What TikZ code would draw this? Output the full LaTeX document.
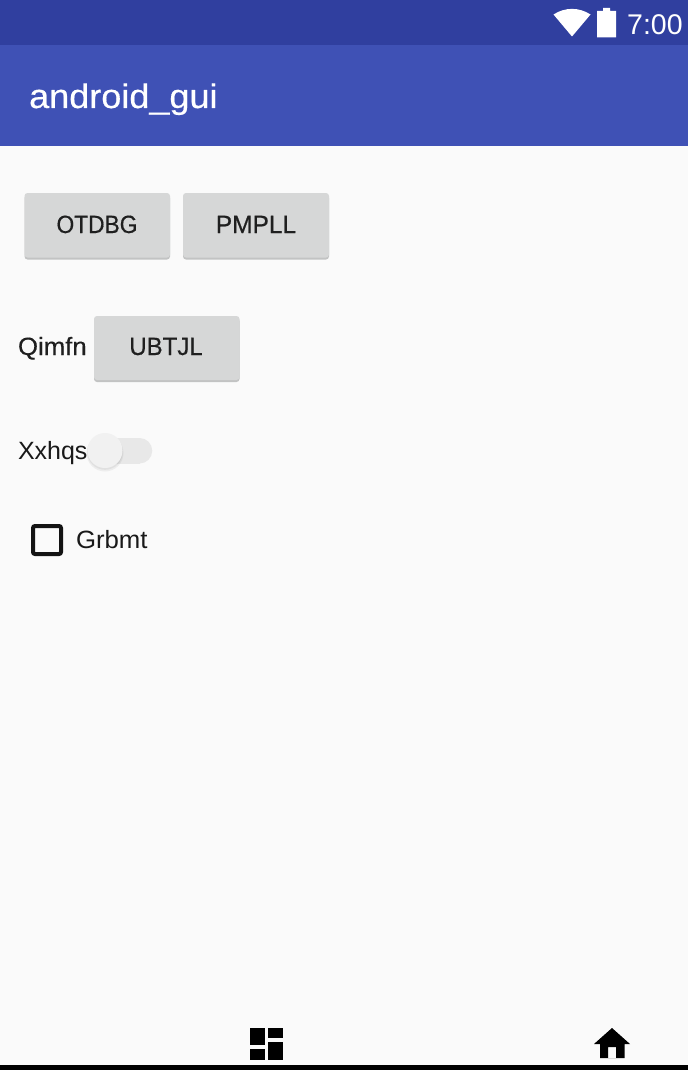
\documentclass[tikz,border=0pt]{standalone}
\usepackage{fontspec}
\setmainfont{Liberation Sans}
\newfontfamily\titlefont[FakeBold=0.5,FakeStretch=1.06]{Liberation Sans}
\newfontfamily\btnfontA[FakeBold=0.45,FakeStretch=0.91]{Liberation Sans}
\newfontfamily\btnfontB[FakeBold=0.45,FakeStretch=0.98]{Liberation Sans}
\newfontfamily\btnfontC[FakeBold=0.45,FakeStretch=0.96]{Liberation Sans}
\newfontfamily\qimfont[FakeBold=0.3,FakeStretch=1.03]{Liberation Sans}
\newfontfamily\lblfont[FakeStretch=1.03]{Liberation Sans}
\definecolor{statusbar}{HTML}{303F9F}
\definecolor{appbar}{HTML}{3F51B5}
\definecolor{body}{HTML}{FAFAFA}
\definecolor{btn}{HTML}{D6D7D7}
\definecolor{btnshadow}{HTML}{C2C3C3}
\definecolor{ink}{HTML}{1F1F1F}
\definecolor{track}{HTML}{E8E8E8}
\definecolor{thumb}{HTML}{F1F1F1}
\tikzset{
  x=1pt,y=-1pt,
  label text/.style={inner sep=0pt,outer sep=0pt,anchor=base west,text=ink,font=\fontsize{25}{30}\selectfont},
  btn face/.style={fill=btn,rounded corners=3pt,draw=none},
  btn edge/.style={fill=btnshadow,rounded corners=3pt,draw=none},
  btn text/.style={inner sep=0pt,outer sep=0pt,anchor=base,text=ink},
  icon/.style={fill=black,draw=none},
}
\begin{document}
\begin{tikzpicture}
\useasboundingbox (0,0) rectangle (688,1070);
\fill[body] (0,0) rectangle (688,1070);
\fill[appbar] (0,45) rectangle (688,146);
\fill[statusbar] (0,0) rectangle (688,45);
\node[inner sep=0pt,anchor=base west,text=white,font=\titlefont\fontsize{34}{40}\selectfont] (title) at (29,108) {android\_gui};
% status icons
\fill[white] (572,36.5) -- (553.5,14.5) .. controls (565,7) and (579,7) .. (590.5,14.5) -- cycle;
\fill[white] (597,11) -- (603,11) -- (603,8) -- (610,8) -- (610,11) -- (616,11) -- (616,37.5) -- (597,37.5) -- cycle;
\node[inner sep=0pt,anchor=base west,text=white,font=\fontsize{28.5}{34}\selectfont] (clock) at (627,34.5) {7:00};
% buttons
\fill[btn edge] (24.5,195) rectangle (170,259.5);
\fill[btn face] (24.5,193) rectangle (170,257.5);
\node[btn text,font=\btnfontA\fontsize{25}{30}\selectfont] (b1) at (97,233) {OTDBG};
\fill[btn edge] (183,195) rectangle (329,259.5);
\fill[btn face] (183,193) rectangle (329,257.5);
\node[btn text,font=\btnfontB\fontsize{25}{30}\selectfont] (b2) at (256,233) {PMPLL};
\fill[btn edge] (94,318) rectangle (239.5,382);
\fill[btn face] (94,316) rectangle (239.5,380);
\node[btn text,font=\btnfontC\fontsize{25}{30}\selectfont] (b3) at (166,355) {UBTJL};
\node[label text,font=\qimfont\fontsize{25}{30}\selectfont] (l1) at (18,355) {Qimfn};
% switch
\node[label text,text=black!90] (l2) at (18,459) {Xxhqs};
\fill[track] (100,438) rectangle (139.5,463.5);
\fill[track] (139.5,450.75) circle (12.75);
\fill[black,opacity=0.05] (105,453) circle (18.5);
\fill[black,opacity=0.05] (105,452) circle (17.8);
\fill[thumb] (105,450.5) circle (17.5);
% checkbox
\draw[line width=4pt,draw=ink!60!black,rounded corners=2pt] (33,526) rectangle (61,554);
\node[label text,text=black!90,font=\lblfont\fontsize{25}{30}\selectfont] (l3) at (76,548) {Grbmt};
% bottom icons
\fill[icon] (250,1027.5) rectangle (264.5,1045);
\fill[icon] (268,1027.5) rectangle (282.5,1038);
\fill[icon] (250,1049) rectangle (264.5,1060);
\fill[icon] (268,1042) rectangle (282.5,1060);
\fill[icon,even odd rule] (612,1028) -- (630,1044) -- (624.5,1044) -- (624.5,1058) -- (600,1058) -- (600,1044) -- (594,1044) -- cycle
  (608,1047) rectangle (616,1058);
\fill[black] (0,1065) rectangle (688,1070);
\end{tikzpicture}
\end{document}
